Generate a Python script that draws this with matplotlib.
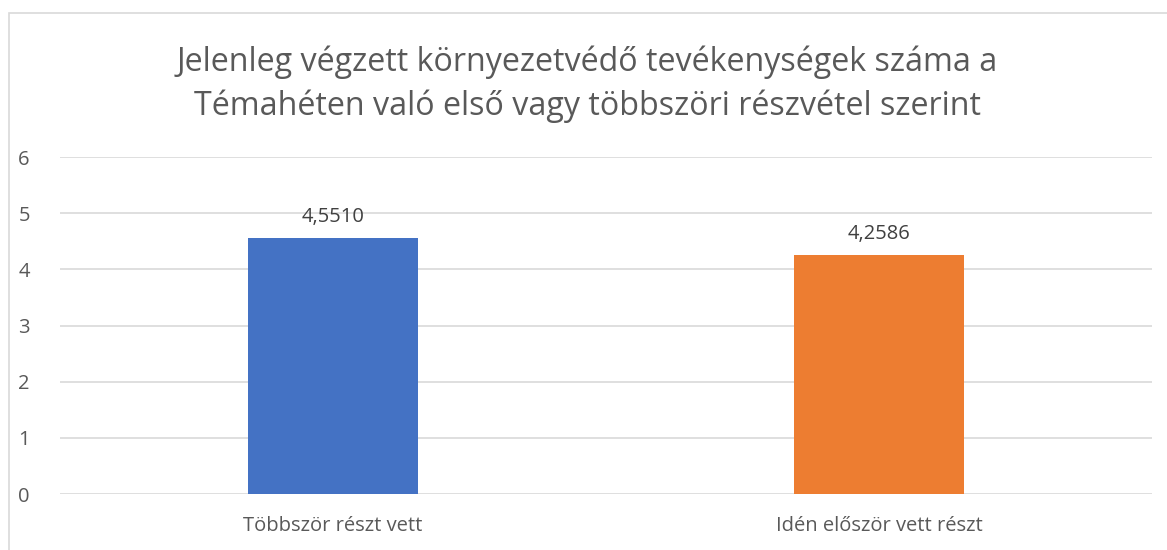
import matplotlib.pyplot as plt
from matplotlib.patches import Rectangle

categories = ["Többször részt vett", "Idén először vett részt"]
values = [4.5510, 4.2586]
colors = ["#4472C4", "#ED7D31"]
title = "Jelenleg végzett környezetvédő tevékenységek száma a\nTémahéten való első vagy többszöri részvétel szerint"

plt.rcParams['font.family'] = ['Open Sans', 'DejaVu Sans']
txt = "#595959"

fig = plt.figure(figsize=[11.67, 5.5], dpi=100)
ax = fig.add_axes([60 / 1167, 1 - 494 / 550, 1092 / 1167, 337 / 550])

# chart frame (right/bottom edges fall outside the image)
fig.patches.append(Rectangle((9 / 1167, -0.1), 1.2, 1 - 13 / 550 + 0.1,
                             transform=fig.transFigure, fill=False,
                             edgecolor="#d9d9d9", linewidth=1.2))

x = range(len(categories))
bars = ax.bar(x, values, width=0.31, color=colors, zorder=3)
for b, v in zip(bars, values):
    ax.text(b.get_x() + b.get_width() / 2, v + 0.2, f"{v:.4f}".replace(".", ","),
            ha="center", va="bottom", fontsize=14.5, color="#404040")

ax.set_xlim(-0.5, 1.5)
ax.set_ylim(0, 6)
ax.set_yticks(range(7))
ax.set_xticks(list(x))
ax.set_xticklabels(categories)
ax.tick_params(length=0, labelsize=14.5, colors=txt, pad=16)
ax.tick_params(axis="y", pad=30)
for lbl in ax.get_yticklabels():
    lbl.set_horizontalalignment("left")
ax.grid(axis="y", color="#d9d9d9", linewidth=1.2, zorder=0)
for s in ax.spines.values():
    s.set_visible(False)

fig.text(587 / 1167, 1 - 84 / 550, title, ha="center", va="center",
         fontsize=23.2, color=txt, linespacing=1.42)

fig.savefig("out.png", dpi=100)
